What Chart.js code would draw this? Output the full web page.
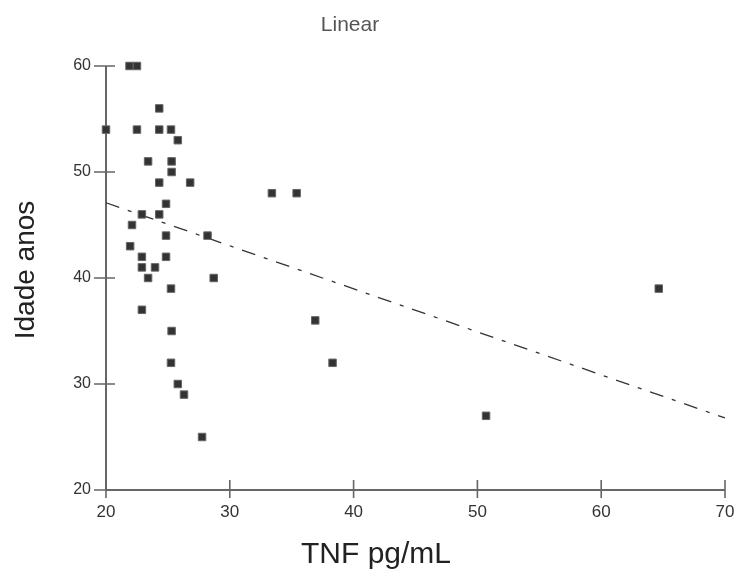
<!DOCTYPE html>
<html>
<head>
<meta charset="utf-8">
<script src="https://cdn.jsdelivr.net/npm/chart.js@4/dist/chart.umd.min.js"></script>
<style>
html,body{margin:0;padding:0;background:#fff;}
#wrap{width:734px;height:569px;}
</style>
</head>
<body>
<div id="wrap"><canvas id="c" width="734" height="569"></canvas></div>
<script>
// Data
const tnfValues = [21.9, 22.5, 24.3, 20.0, 22.5, 24.3, 25.25, 25.8, 23.4, 25.3, 25.3, 24.3, 26.8,
  24.85, 22.9, 24.3, 22.1, 24.85, 28.2, 21.95, 22.9, 24.85, 22.9, 23.96, 23.4, 28.7, 25.25, 22.9,
  25.3, 25.25, 25.8, 26.3, 27.76, 33.4, 35.4, 36.9, 38.3, 64.65, 50.7];
const ageValues = [60, 60, 56, 54, 54, 54, 54, 53, 51, 51, 50, 49, 49,
  47, 46, 46, 45, 44, 44, 43, 42, 42, 41, 41, 40, 40, 39, 37,
  35, 32, 30, 29, 25, 48, 48, 36, 32, 39, 27];
const fitX = [20, 70];
const fitY = [47.1, 26.8];
const xTicks = [20, 30, 40, 50, 60, 70];
const yTicks = [20, 30, 40, 50, 60];
const chartTitle = 'Linear';
const xTitle = 'TNF pg/mL';
const yTitle = 'Idade anos';

const points = tnfValues.map((x, i) => ({x: x, y: ageValues[i]}));
const fitLine = fitX.map((x, i) => ({x: x, y: fitY[i]}));

const axesPlugin = {
  id: 'axesPlugin',
  beforeDatasetsDraw(chart) {
    const ctx = chart.ctx;
    const xs = chart.scales.x, ys = chart.scales.y;
    const x0 = xs.getPixelForValue(xTicks[0]);
    const x1 = xs.getPixelForValue(xTicks[xTicks.length - 1]);
    const y0 = ys.getPixelForValue(yTicks[0]);
    const y1 = ys.getPixelForValue(yTicks[yTicks.length - 1]);
    ctx.save();
    ctx.strokeStyle = '#666';
    ctx.lineWidth = 2;
    ctx.beginPath();
    ctx.moveTo(x0, y1); ctx.lineTo(x0, y0); ctx.lineTo(x1, y0);
    ctx.stroke();
    ctx.lineWidth = 1.6;
    ctx.beginPath();
    yTicks.forEach(v => {
      const p = ys.getPixelForValue(v);
      ctx.moveTo(x0 - 12, p); ctx.lineTo(x0 + 9, p);
    });
    xTicks.forEach(v => {
      const p = xs.getPixelForValue(v);
      ctx.moveTo(p, y0 - 10); ctx.lineTo(p, y0 + 8);
    });
    ctx.stroke();
    ctx.restore();
  },
  afterDraw(chart) {
    const ctx = chart.ctx;
    ctx.save();
    ctx.textAlign = 'center';
    ctx.textBaseline = 'middle';
    ctx.fillStyle = '#555';
    ctx.font = '21px "Liberation Sans", Arial, sans-serif';
    ctx.fillText(chartTitle, 350, 25);
    ctx.fillStyle = '#222';
    ctx.font = '30px "Liberation Sans", Arial, sans-serif';
    ctx.fillText(xTitle, 376, 555);
    ctx.translate(26, 270);
    ctx.rotate(-Math.PI / 2);
    ctx.font = '28px "Liberation Sans", Arial, sans-serif';
    ctx.fillText(yTitle, 0, 0);
    ctx.restore();
  }
};

new Chart(document.getElementById('c'), {
  type: 'scatter',
  data: {
    datasets: [
      {
        label: 'Idade',
        data: points,
        pointStyle: 'rect',
        pointRadius: 5.3,
        pointHoverRadius: 5.3,
        backgroundColor: '#333',
        borderColor: '#666',
        borderWidth: 1,
        clip: false,
        order: 1
      },
      {
        type: 'line',
        label: 'Linear',
        data: fitLine,
        borderColor: '#333',
        borderWidth: 1.3,
        borderDash: [14, 9, 4, 9],
        pointRadius: 0,
        fill: false,
        clip: false,
        order: 2
      }
    ]
  },
  options: {
    responsive: false,
    animation: false,
    devicePixelRatio: 1,
    layout: { padding: { top: 66, right: 9, bottom: 0, left: 0 }, autoPadding: false },
    plugins: { legend: { display: false }, tooltip: { enabled: false }, title: { display: false } },
    scales: {
      x: {
        type: 'linear',
        min: 20, max: 70,
        afterFit(s) { s.height = 79; s.paddingLeft = 0; s.paddingRight = 0; },
        afterBuildTicks(s) { s.ticks = xTicks.map(v => ({value: v})); },
        grid: { display: false, drawTicks: false },
        border: { display: false },
        ticks: { color: '#333', padding: 12, maxRotation: 0, autoSkip: false,
                 font: { family: '"Liberation Sans", Arial, sans-serif', size: 17 } }
      },
      y: {
        type: 'linear',
        min: 20, max: 60,
        afterFit(s) { s.width = 106; s.paddingTop = 0; s.paddingBottom = 0; },
        afterBuildTicks(s) { s.ticks = yTicks.map(v => ({value: v})); },
        grid: { display: false, drawTicks: false },
        border: { display: false },
        ticks: { color: '#333', padding: 15, autoSkip: false,
                 font: { family: '"Liberation Sans", Arial, sans-serif', size: 16 } }
      }
    }
  },
  plugins: [axesPlugin]
});
</script>
</body>
</html>
